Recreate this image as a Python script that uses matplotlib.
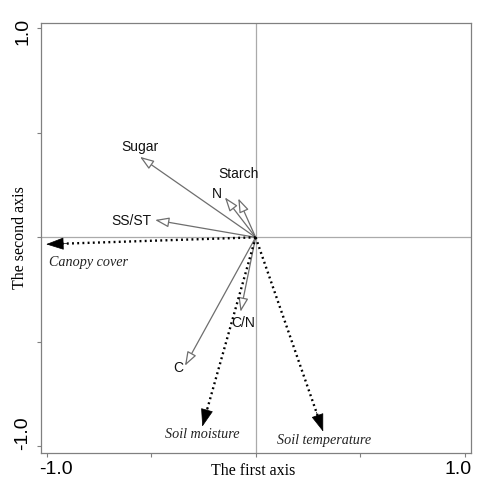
import matplotlib
matplotlib.use("Agg")
import matplotlib.pyplot as plt
import matplotlib.transforms as mtransforms

# Response variables (solid gray arrows, open heads)
resp_names = ["Sugar", "Starch", "N", "SS/ST", "C/N", "C"]
resp_x = [-0.553, -0.083, -0.147, -0.481, -0.072, -0.338]
resp_y = [0.385, 0.186, 0.191, 0.083, -0.356, -0.614]
resp_lab_x = [-0.553, -0.083, -0.186, -0.593, -0.059, -0.372]
resp_lab_y = [0.433, 0.303, 0.207, 0.079, -0.410, -0.623]

# Explanatory variables (dotted black arrows, filled heads)
env_names = ["Canopy cover", "Soil moisture", "Soil temperature"]
env_x = [-1.002, -0.255, 0.323]
env_y = [-0.033, -0.905, -0.929]
env_lab_x = [-0.800, -0.253, 0.326]
env_lab_y = [-0.120, -0.945, -0.972]

tick_vals = [-1.0, -0.5, 0.0, 0.5, 1.0]
tick_labels = ["-1.0", "", "", "", "1.0"]

fig = plt.figure(figsize=(4.89, 4.88), dpi=100)
ax = fig.add_axes([0.0832, 0.0723, 0.880, 0.881])
ax.set_xlim(-1.028, 1.030)
ax.set_ylim(-1.030, 1.026)

for s in ax.spines.values():
    s.set_color("#808080")
    s.set_linewidth(0.9)

ax.axhline(0, color="#aaaaaa", lw=0.9, zorder=1)
ax.axvline(0, color="#aaaaaa", lw=0.9, zorder=1)

ax.set_xticks(tick_vals)
ax.set_xticklabels(tick_labels, fontsize=14, family="Liberation Sans")
ax.set_yticks(tick_vals)
ax.set_yticklabels(tick_labels, fontsize=14, family="Liberation Sans",
                   rotation=90, va="center")
ax.tick_params(direction="out", length=3, width=0.8, color="#808080", pad=3)

# shift tick labels inward like the reference
xl = ax.get_xticklabels()
xl[0].set_transform(xl[0].get_transform() + mtransforms.ScaledTranslation(9/100, 0, fig.dpi_scale_trans))
xl[-1].set_transform(xl[-1].get_transform() + mtransforms.ScaledTranslation(-7/100, 0, fig.dpi_scale_trans))
yl = ax.get_yticklabels()
yl[0].set_transform(yl[0].get_transform() + mtransforms.ScaledTranslation(-1/100, 13/100, fig.dpi_scale_trans))
yl[-1].set_transform(yl[-1].get_transform() + mtransforms.ScaledTranslation(-1/100, -3/100, fig.dpi_scale_trans))

# axis titles
fig.text(253/489, 1 - 471/488, "The first axis", ha="center", va="center",
         fontsize=11.5, family="Liberation Serif")
fig.text(20/489, 1 - 238/488, "The second axis", ha="center", va="center",
         fontsize=11.5, family="Liberation Serif", rotation=90)

# solid arrows
for name, x, y, lx, ly in zip(resp_names, resp_x, resp_y, resp_lab_x, resp_lab_y):
    ax.annotate("", xy=(x, y), xytext=(0, 0),
                arrowprops=dict(arrowstyle="-|>,head_length=0.85,head_width=0.3",
                                color="#6e6e6e", fc="white", lw=0.9,
                                shrinkA=0, shrinkB=0, mutation_scale=10),
                zorder=3)
    ax.text(lx, ly, name, ha="center", va="center", fontsize=10,
            family="Liberation Sans", color="#111111", zorder=4)

# dotted arrows
for name, x, y, lx, ly in zip(env_names, env_x, env_y, env_lab_x, env_lab_y):
    ax.plot([0, x * 0.95], [0, y * 0.95], color="black", lw=1.7,
            linestyle=(0, (0.8, 1.4)), zorder=3)
    ax.annotate("", xy=(x, y), xytext=(x * 0.9, y * 0.9),
                arrowprops=dict(arrowstyle="-|>,head_length=1.15,head_width=0.4",
                                color="black", lw=0.5,
                                shrinkA=0, shrinkB=0, mutation_scale=10),
                zorder=4)
    ax.text(lx, ly, name, ha="center", va="center", fontsize=10.2,
            family="Liberation Serif", style="italic", color="#222222", zorder=4)

fig.savefig("out.png", dpi=100)
